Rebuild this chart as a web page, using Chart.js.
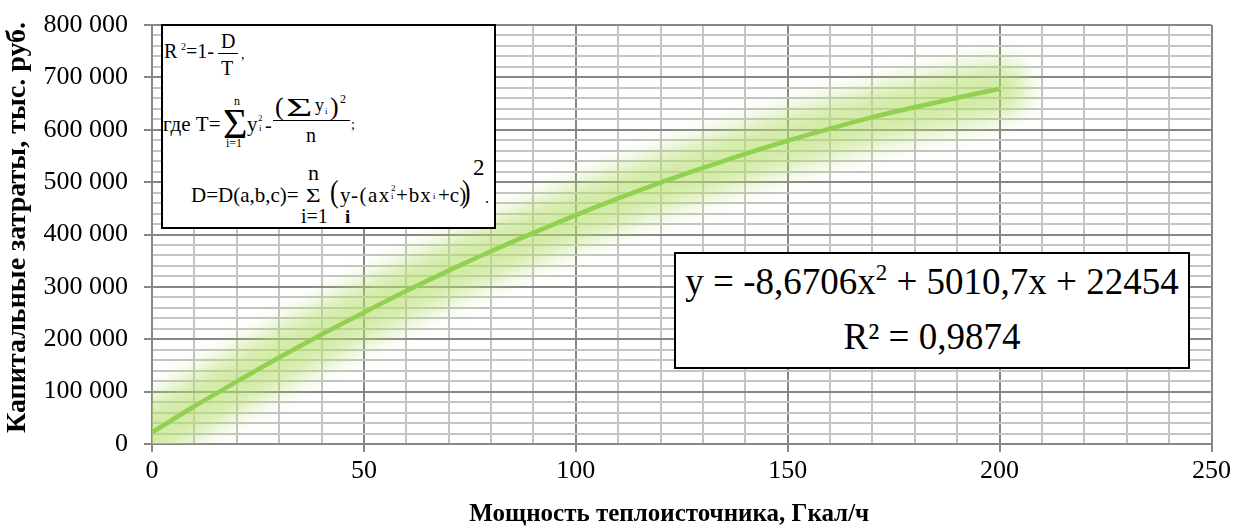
<!DOCTYPE html>
<html>
<head>
<meta charset="utf-8">
<script src="https://cdn.jsdelivr.net/npm/chart.js@4.4.1/dist/chart.umd.min.js"></script>
<style>
  body { margin: 0; background: #fff; }
  #wrap { position: relative; width: 1235px; height: 526px; overflow: hidden; }
  canvas { position: absolute; left: 0; top: 0; }
  .box { position: absolute; border: 2px solid #000; background: #fff; box-sizing: border-box; }
  .t { position: absolute; font-family: "Liberation Serif", "Times New Roman", serif; line-height: 1; color: #000; white-space: nowrap; transform-origin: left center; }
  .bar { position: absolute; height: 1px; background: #000; }
  #eq { font-family: "Liberation Serif", "Times New Roman", serif; font-size: 37px; line-height: 55px; text-align: center; padding-top: 0; }
  #eq sup { font-size: 23px; vertical-align: 14px; line-height: 0; }
</style>
</head>
<body>
<div id="wrap">
  <canvas id="chart" width="1235" height="526"></canvas>
  <div class="box" id="formula" style="left:161px;top:24px;width:335px;height:205px;"></div>
  <div class="box" id="eq" style="left:674px;top:252px;width:516px;height:117px;"></div>
</div>
<script>
// значения (линия тренда)
const xValues = [0, 10, 20, 30, 40, 50, 60, 70, 80, 90, 100, 110, 120, 130, 140, 150, 160, 170, 180, 190, 200];
const yValues = [22000, 72000, 119000, 165000, 209000, 251000, 292000, 331000, 368000, 403000, 437000,
                 469000, 499000, 527000, 554000, 579000, 602000, 624000, 643000, 661000, 678000];

const xTitle = 'Мощность теплоисточника, Гкал/ч';
const yTitle = 'Капитальные затраты, тыс. руб.';
const eqLine1 = 'y = -8,6706x<sup>2</sup> + 5010,7x + 22454';
const eqLine2 = 'R² = 0,9874';

const xMajor = 50, yMajor = 100000;
const serif = '"Liberation Serif", "Times New Roman", serif';

const points = xValues.map((x, i) => ({ x: x, y: yValues[i] }));

// размытая подсветка под линией
const glowPlugin = {
  id: 'glow',
  beforeDatasetDraw(chart, args) {
    if (args.index === 1) {
      chart.ctx.save();
      chart.ctx.filter = 'blur(12px)';
    }
  },
  afterDatasetDraw(chart, args) {
    if (args.index === 1) chart.ctx.restore();
  }
};

function fmt(v) {
  return String(v).replace(/\B(?=(\d{3})+(?!\d))/g, ' ');
}

const chart = new Chart(document.getElementById('chart'), {
  type: 'line',
  data: {
    datasets: [
      {
        data: points,
        borderColor: '#92d050',
        borderWidth: 4.5,
        pointRadius: 0,
        tension: 0.3,
        fill: false
      },
      {
        data: points,
        borderColor: 'rgba(182, 222, 110, 0.62)',
        borderWidth: 56,
        borderCapStyle: 'round',
        pointRadius: 0,
        tension: 0.3,
        fill: false
      }
    ]
  },
  options: {
    responsive: false,
    animation: false,
    events: [],
    layout: { padding: { top: 25, right: 22, left: 0, bottom: 0 } },
    plugins: { legend: { display: false }, tooltip: { enabled: false } },
    scales: {
      x: {
        type: 'linear',
        min: 0,
        max: 250,
        afterFit: (scale) => { scale.height = 82; },
        ticks: {
          stepSize: 10,
          autoSkip: false,
          maxRotation: 0,
          padding: 4,
          color: '#000',
          font: { family: serif, size: 26 },
          callback: (v) => (v % xMajor === 0 ? String(v) : '')
        },
        grid: {
          color: (ctx) => (ctx.tick && ctx.tick.value % xMajor === 0 ? '#878787' : '#c4c4c4'),
          lineWidth: 2,
          tickLength: 8,
          tickWidth: 2,
          tickColor: (ctx) => (ctx.tick && ctx.tick.value % xMajor === 0 ? '#878787' : 'rgba(0,0,0,0)')
        },
        border: { display: true, color: '#878787', width: 2 },
        title: {
          display: true,
          text: xTitle + '\u00a0\u00a0\u00a0\u00a0',
          color: '#000',
          font: { family: serif, size: 25, weight: 'bold', lineHeight: 0.88 },
          padding: { top: 0, bottom: 0 }
        }
      },
      y: {
        min: 0,
        max: 800000,
        afterFit: (scale) => {
          scale.width = 152;
          scale.paddingTop = 0;
          scale.paddingBottom = 0;
        },
        ticks: {
          stepSize: 20000,
          autoSkip: false,
          padding: 16,
          color: '#000',
          font: { family: serif, size: 26 },
          callback: (v) => (v % yMajor === 0 ? fmt(v) : '')
        },
        grid: {
          color: (ctx) => (ctx.tick && ctx.tick.value % yMajor === 0 ? '#878787' : '#c4c4c4'),
          lineWidth: 2,
          tickLength: 8,
          tickWidth: 2,
          tickColor: (ctx) => (ctx.tick && ctx.tick.value % yMajor === 0 ? '#878787' : 'rgba(0,0,0,0)')
        },
        border: { display: true, color: '#878787', width: 2 },
        title: {
          display: true,
          text: '\u00a0\u00a0' + yTitle,
          color: '#000',
          font: { family: serif, size: 28, weight: 'bold', lineHeight: 1 },
          padding: { top: 4, bottom: 0 }
        }
      }
    }
  },
  plugins: [glowPlugin]
});

// подпись с уравнением тренда
document.getElementById('eq').innerHTML = eqLine1 + '<br>' + eqLine2;

// формулы в левом верхнем углу: x — левый край, b — базовая линия
const wrap = document.getElementById('wrap');
function t(text, x, b, size, extra) {
  const d = document.createElement('div');
  d.className = 't';
  d.textContent = text;
  d.style.left = x + 'px';
  d.style.top = (b - 0.837 * size) + 'px';
  d.style.fontSize = size + 'px';
  if (extra) Object.assign(d.style, extra);
  wrap.appendChild(d);
}
function bar(x, y, w) {
  const d = document.createElement('div');
  d.className = 'bar';
  d.style.left = x + 'px';
  d.style.top = y + 'px';
  d.style.width = w + 'px';
  wrap.appendChild(d);
}

// R²=1-D/T,
t('R', 164, 58, 20);
t('2', 181, 50, 10);
t('=1-', 186, 58, 20);
t('D', 221, 48, 20);
bar(218, 53, 20);
t('T', 221, 75, 20);
t(',', 241, 60, 14);

// где T=...
t('где T=', 163, 132, 21);
t('Σ', 223, 138, 42);
t('n', 234, 105, 12);
t('i=1', 226, 147, 12);
t('y', 247, 132, 21);
t('2', 258, 122, 9);
t('i', 259, 132, 9);
t('-', 265, 132, 20);
t('(', 275, 115.6, 26);
t('Σ', 286, 117, 26, { transform: 'scaleX(1.75)' });
t('y', 315, 111, 18);
t('i', 325, 115, 9);
t(')', 330, 115.6, 26);
t('2', 340, 103, 12);
bar(273, 120, 77);
t('n', 306, 142, 20);
t(';', 351, 130, 14);

// D=D(a,b,c)=...
t('D=D(a,b,c)=', 191, 203, 21);
t('n', 308, 180, 22);
t('Σ', 306, 202, 18, { transform: 'scaleX(1.4)' });
t('i=1', 301, 223, 20);
t('(', 330, 201.6, 32, { transform: 'scaleX(0.8)' });
t('y', 340, 202.5, 21);
t('i', 345, 223, 19, { fontWeight: 'bold' });
t('-(ax', 351, 203, 21, { letterSpacing: '1.5px' });
t('2', 391, 192, 9);
t('i', 391, 200, 9);
t('+bx', 396, 203, 21, { letterSpacing: '1px' });
t('i', 433, 200, 9);
t('+c)', 438, 203, 21);
t(')', 462, 201.6, 32, { transform: 'scaleX(0.8)' });
t('2', 473, 175, 23);
t('.', 485, 203, 16);
</script>
</body>
</html>
